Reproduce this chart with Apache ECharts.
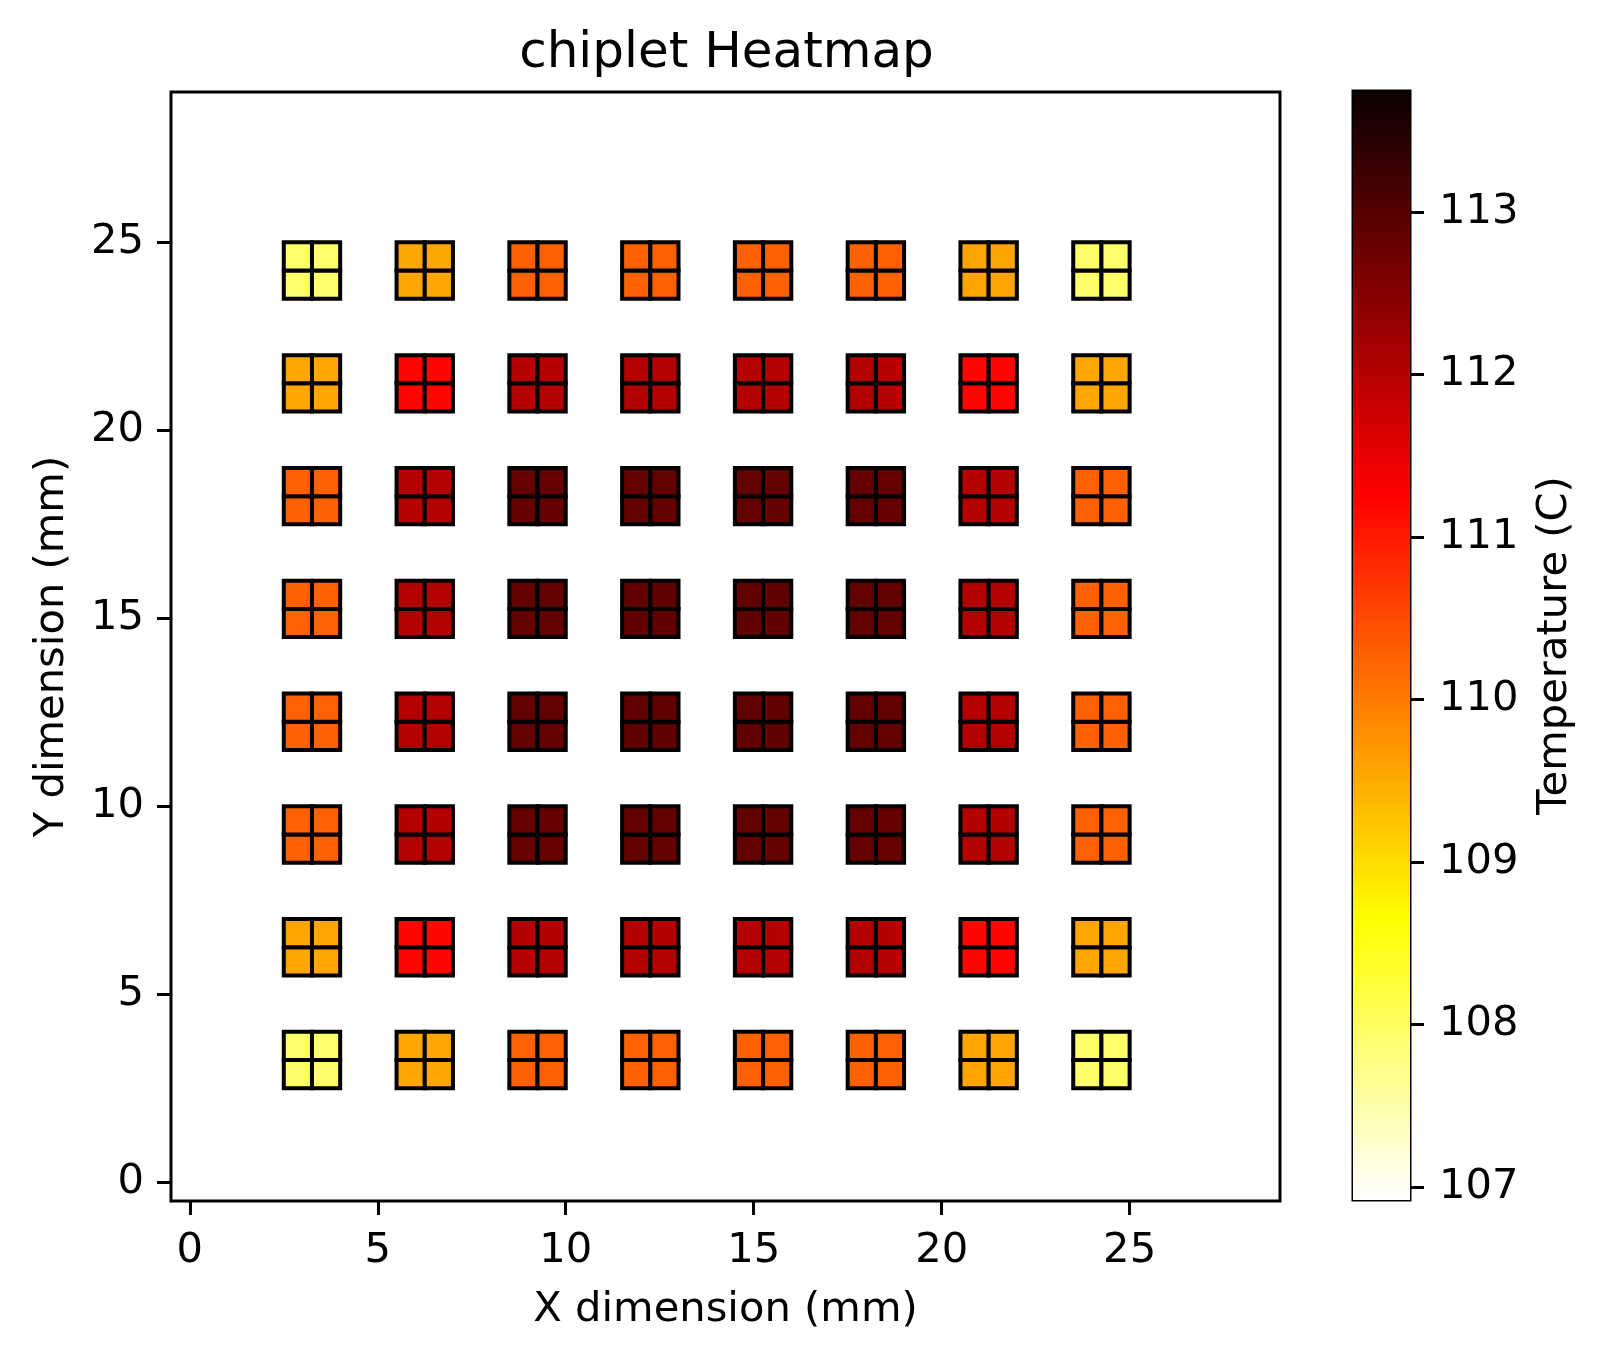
<!DOCTYPE html>
<html>
<head>
<meta charset="utf-8">
<script src="https://cdn.jsdelivr.net/npm/echarts@6/dist/echarts.min.js"></script>
<style>
html,body{margin:0;padding:0;background:#ffffff;}
#chart{width:1606px;height:1361px;}
</style>
</head>
<body>
<div id="chart"></div>
<script>
// ---- data ----
const chipletX = [2.5, 5.5, 8.5, 11.5, 14.5, 17.5, 20.5, 23.5];   // chiplet left edges (mm)
const chipletY = [2.5, 5.5, 8.5, 11.5, 14.5, 17.5, 20.5, 23.5];   // chiplet bottom edges (mm)
const cellOffsets = [0, 0.75];                                     // 2x2 cells inside each chiplet (mm)
const cellSizeMM = 0.75;
// chiplet temperatures (C), one row per chiplet row, bottom to top
const tempsRow1 = [107.93, 109.55, 110.27, 110.27, 110.27, 110.27, 109.58, 107.93];
const tempsRow2 = [109.55, 111.20, 112.02, 112.03, 112.03, 112.02, 111.20, 109.55];
const tempsRow3 = [110.27, 112.02, 112.82, 112.84, 112.84, 112.82, 112.02, 110.27];
const tempsRow4 = [110.27, 112.03, 112.84, 112.86, 112.86, 112.84, 112.03, 110.27];
const tempsRow5 = [110.27, 112.03, 112.84, 112.86, 112.86, 112.84, 112.03, 110.27];
const tempsRow6 = [110.27, 112.02, 112.82, 112.84, 112.84, 112.82, 112.02, 110.27];
const tempsRow7 = [109.55, 111.20, 112.02, 112.03, 112.03, 112.02, 111.20, 109.55];
const tempsRow8 = [107.93, 109.55, 110.27, 110.27, 110.27, 110.27, 109.58, 107.93];
const tempRows = [tempsRow1, tempsRow2, tempsRow3, tempsRow4, tempsRow5, tempsRow6, tempsRow7, tempsRow8];
const xTicks = [0, 5, 10, 15, 20, 25];
const yTicks = [0, 5, 10, 15, 20, 25];
const cbarTicks = [107, 108, 109, 110, 111, 112, 113];
const tempMin = 106.92;
const tempMax = 113.745;

// ---- matplotlib "hot_r" colormap ----
function hot(s) {
  const r = s < 0.365079 ? 0.0416 + (1 - 0.0416) * s / 0.365079 : 1;
  const g = s < 0.365079 ? 0 : (s < 0.746032 ? (s - 0.365079) / (0.746032 - 0.365079) : 1);
  const b = s < 0.746032 ? 0 : (s - 0.746032) / (1 - 0.746032);
  const h = v => Math.round(Math.max(0, Math.min(1, v)) * 255).toString(16).padStart(2, '0');
  return '#' + h(r) + h(g) + h(b);
}
function hotR(t) { return hot(1 - t); }
const N = 256;
const cmapColors = [];
const gradStops = [];
for (let i = 0; i < N; i++) {
  const t = i / (N - 1);
  cmapColors.push(hotR(t));
  gradStops.push({ offset: t, color: hotR(t) });
}

// ---- build cell table ----
const cells = [];
tempRows.forEach((row, j) => {
  row.forEach((temp, i) => {
    cellOffsets.forEach(dy => {
      cellOffsets.forEach(dx => {
        cells.push([chipletX[i] + dx, chipletY[j] + dy, temp]);
      });
    });
  });
});

const FONT = 'DejaVu Sans';
const TICK_FS = 41.67;

const chart = echarts.init(document.getElementById('chart'), null, { renderer: 'canvas' });
chart.setOption({
  backgroundColor: '#ffffff',
  animation: false,
  title: {
    text: 'chiplet Heatmap',
    left: 721.5,
    top: 24,
    textAlign: 'center',
    textStyle: { fontFamily: FONT, fontSize: 50, fontWeight: 'normal', color: '#000' }
  },
  grid: [
    { left: 171, top: 92, width: 1109, height: 1109, show: true, borderColor: '#000', borderWidth: 3, backgroundColor: 'transparent' },
    { left: 1353, top: 91, width: 57, height: 1109, show: true, borderColor: '#000', borderWidth: 3, backgroundColor: 'transparent' }
  ],
  xAxis: [
    {
      type: 'value', gridIndex: 0, min: -0.5, max: 29, position: 'bottom',
      splitLine: { show: false },
      axisLine: { show: false, onZero: false },
      axisTick: { show: true, inside: false, length: 14, customValues: xTicks, lineStyle: { color: '#000', width: 3 } },
      axisLabel: { customValues: xTicks, fontFamily: FONT, fontSize: TICK_FS, color: '#000', margin: 29 },
      name: 'X dimension (mm)', nameLocation: 'middle', nameGap: 88,
      nameTextStyle: { fontFamily: FONT, fontSize: TICK_FS, color: '#000' }
    },
    {
      type: 'value', gridIndex: 1, min: 0, max: 1, show: false,
      axisLine: { onZero: false }
    }
  ],
  yAxis: [
    {
      type: 'value', gridIndex: 0, min: -0.5, max: 29, position: 'left',
      splitLine: { show: false },
      axisLine: { show: false, onZero: false },
      axisTick: { show: true, inside: false, length: 14, customValues: yTicks, lineStyle: { color: '#000', width: 3 } },
      axisLabel: { customValues: yTicks, fontFamily: FONT, fontSize: TICK_FS, color: '#000', margin: 27 },
      name: 'Y dimension (mm)', nameLocation: 'middle', nameGap: 98, nameRotate: 90,
      nameTextStyle: { fontFamily: FONT, fontSize: TICK_FS, color: '#000' }
    },
    {
      type: 'value', gridIndex: 1, min: tempMin, max: tempMax, position: 'right',
      splitLine: { show: false },
      axisLine: { show: false, onZero: false },
      axisTick: { show: true, inside: false, length: 14, customValues: cbarTicks, lineStyle: { color: '#000', width: 3 } },
      axisLabel: { customValues: cbarTicks, fontFamily: FONT, fontSize: TICK_FS, color: '#000', margin: 29 },
      name: 'Temperature (C)', nameLocation: 'middle', nameGap: 124, nameRotate: 90,
      nameTextStyle: { fontFamily: FONT, fontSize: TICK_FS, color: '#000' }
    }
  ],
  visualMap: {
    show: false,
    type: 'continuous',
    seriesIndex: 0,
    dimension: 2,
    min: tempMin,
    max: tempMax,
    inRange: { color: cmapColors }
  },
  series: [
    {
      type: 'custom',
      xAxisIndex: 0, yAxisIndex: 0,
      encode: { x: 0, y: 1 },
      data: cells,
      renderItem: function (params, api) {
        const x0 = api.value(0), y0 = api.value(1);
        const p0 = api.coord([x0, y0]);
        const p1 = api.coord([x0 + cellSizeMM, y0 + cellSizeMM]);
        return {
          type: 'rect',
          shape: { x: p0[0], y: p1[1], width: p1[0] - p0[0], height: p0[1] - p1[1] },
          style: { fill: api.visual('color'), stroke: '#000', lineWidth: 4 }
        };
      }
    },
    {
      type: 'custom',
      xAxisIndex: 1, yAxisIndex: 1,
      encode: { x: 0, y: [1, 2] },
      data: [[0, tempMin, tempMax]],
      silent: true,
      z: 0,
      renderItem: function (params, api) {
        const pb = api.coord([0, api.value(1)]);
        const pt = api.coord([1, api.value(2)]);
        return {
          type: 'rect',
          shape: { x: pb[0], y: pt[1], width: pt[0] - pb[0], height: pb[1] - pt[1] },
          style: { fill: new echarts.graphic.LinearGradient(0, 1, 0, 0, gradStops) }
        };
      }
    }
  ]
});
</script>
</body>
</html>
